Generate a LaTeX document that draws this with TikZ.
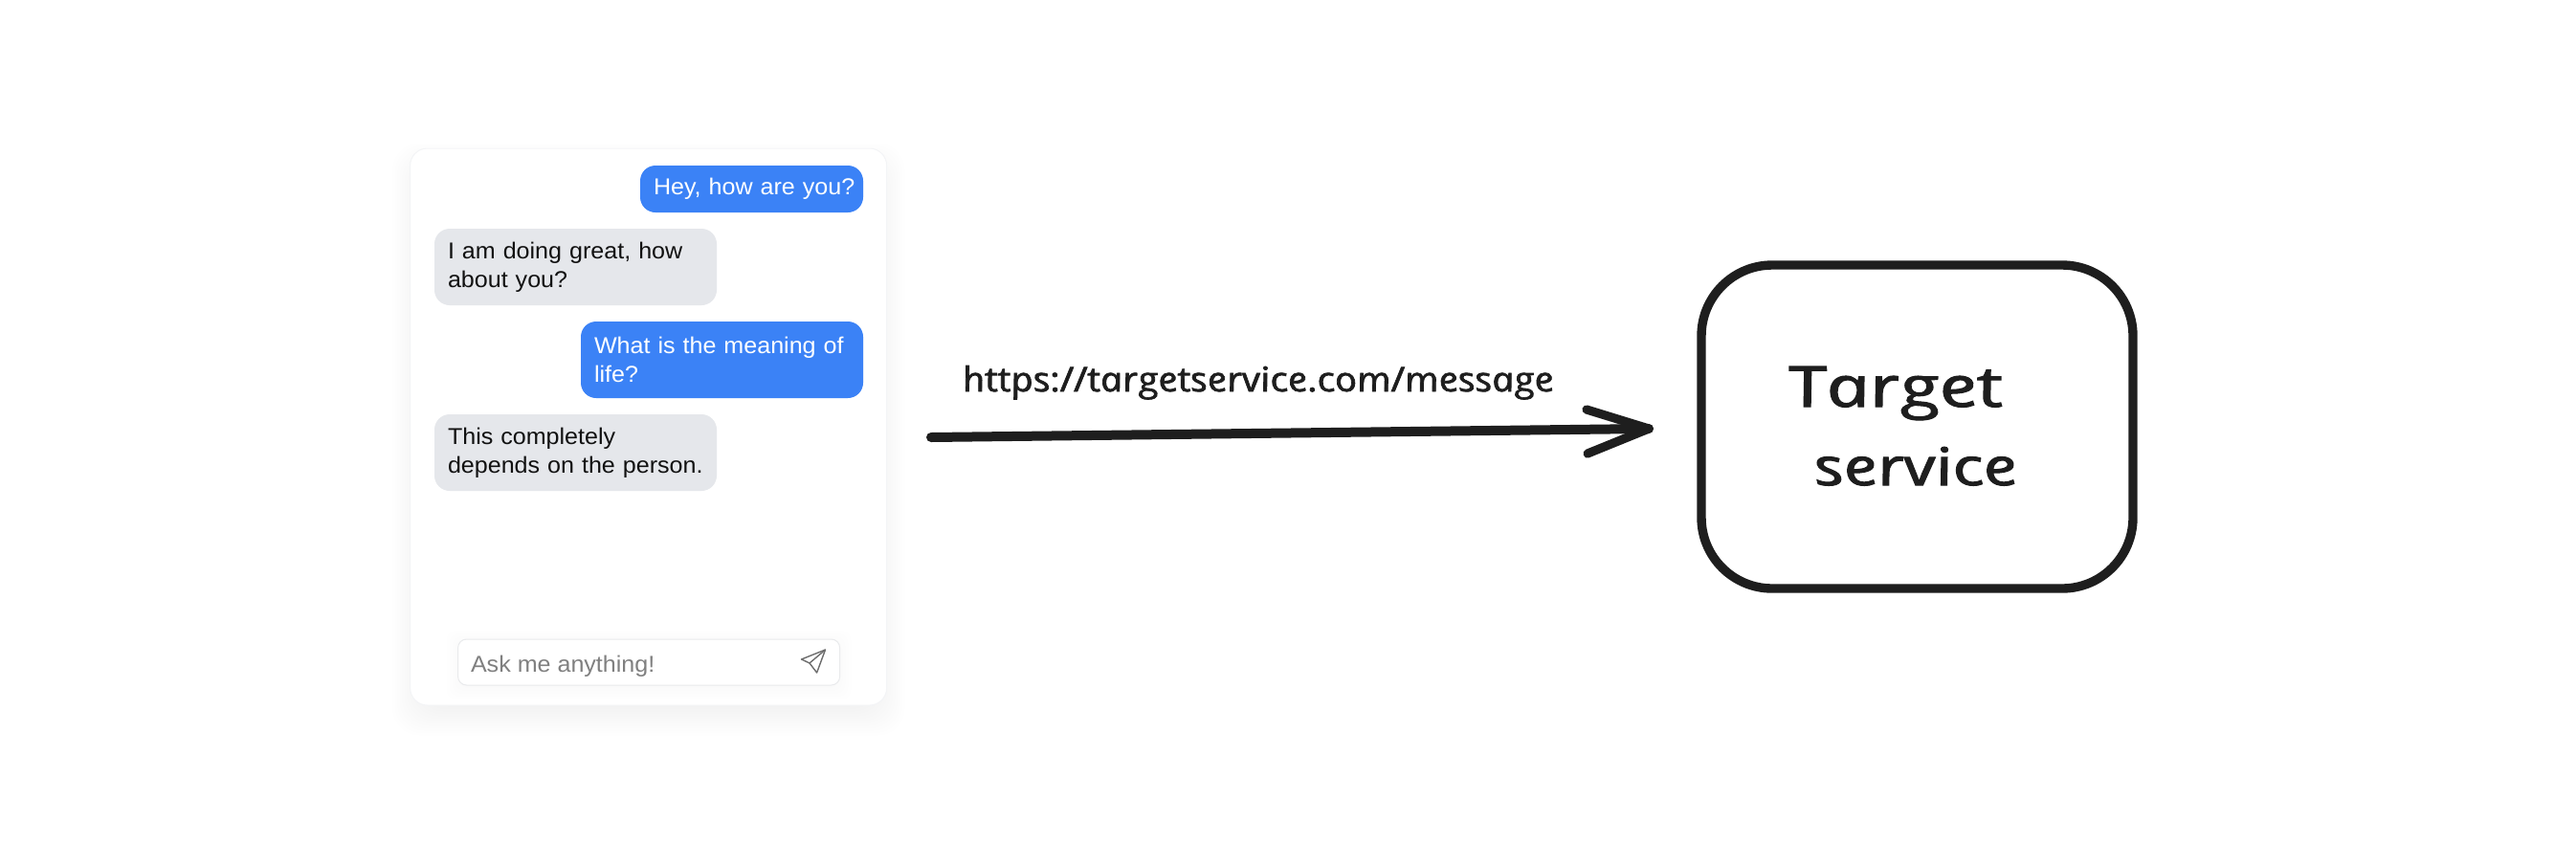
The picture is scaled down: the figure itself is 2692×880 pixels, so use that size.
\documentclass[tikz,border=0pt]{standalone}
\usepackage{fontspec}
\usepackage{graphicx}
\setmainfont{Liberation Sans}[FakeStretch=1.045]
\newfontfamily\hand[ItalicFeatures={FakeSlant=-0.2,FakeBold=1.8}]{Open Sans}
\definecolor{ink}{HTML}{1E1E1E}
\definecolor{bubbleblue}{HTML}{3B82F6}
\definecolor{bubblegray}{HTML}{E5E7EB}
\definecolor{cardline}{HTML}{F3F4F6}
\definecolor{inputline}{HTML}{E9EAEC}
\definecolor{hint}{HTML}{808080}
\definecolor{msg}{HTML}{111111}
\tikzset{
  every node/.style={outer sep=0pt},
  card/.style={draw=cardline,line width=.5pt,fill=white,rounded corners=9pt,inner sep=0,anchor=north west,minimum width=249pt,minimum height=291pt},
  msgbox/.style={rounded corners=8pt,anchor=north west,inner ysep=0,inner xsep=7pt,align=left,font=\fontsize{12}{15}\selectfont},
  outbox/.style={msgbox,fill=bubbleblue,text=white},
  inbox/.style={msgbox,fill=bubblegray,text=msg},
  inputbox/.style={draw=inputline,line width=.5pt,fill=white,rounded corners=4.5pt,inner sep=0,anchor=north west,minimum width=199.5pt,minimum height=24pt},
  hinttext/.style={anchor=base west,inner sep=0,text=hint,font=\fontsize{12}{15}\selectfont},
  handtext/.style={anchor=base west,inner sep=0,text=ink,font=\hand\itshape},
  targetbox/.style={draw=ink,line width=4.7pt,rounded corners=37pt,inner sep=0,anchor=north west,minimum width=225.5pt,minimum height=169pt,fill=white},
  flow/.style={draw=ink,line width=5pt,line cap=round,line join=round},
  barb/.style={draw=ink,line width=4.6pt,line cap=round,line join=round},
  plane/.style={draw=hint!85!black,line width=.7pt,line join=round}
}
\begin{document}
\begin{tikzpicture}[x=0.5pt,y=-0.5pt]
\useasboundingbox (0,0) rectangle (2692,880);
% soft shadows
\foreach \g in {-14,-11.5,...,20}{
  \fill[black,opacity=.004,rounded corners=14pt] (428.6-\g,155+13-\g) rectangle (927+\g,737+13+\g);
}
\node[card] (chat) at (428.6,155) {};
\node[outbox,text width=102.5pt,minimum height=24.5pt] (m1) at (669,173) {\mbox{Hey, how are you?}};
\node[inbox,text width=133.5pt,minimum height=40pt] (m2) at (454,239) {\mbox{I am doing great, how}\\\mbox{about you?}};
\node[outbox,text width=133.5pt,minimum height=40pt] (m3) at (607,336) {\mbox{What is the meaning of}\\\mbox{life?}};
\node[inbox,text width=133.5pt,minimum height=40pt] (m4) at (454,433) {\mbox{This completely}\\\mbox{depends on the person.}};
\foreach \g in {0,3,...,12}{
  \fill[black,opacity=.004,rounded corners=5pt] (478.6-\g,668+3-\g) rectangle (877.5+\g,716+3+\g);
}
\node[inputbox] (field) at (478.6,668) {};
\node[hinttext] (hintlabel) at (492,702) {Ask me anything!};
\coordinate (ptip) at (862.5,679);
\coordinate (pleft) at (837.5,689);
\coordinate (pin) at (846,693);
\coordinate (pbot) at (853.6,703);
\draw[plane] (ptip) -- (pleft) -- (pin) -- (pbot) -- cycle;
\draw[plane] (pin) -- (ptip);
\node[handtext] (url) at (1008,409) {\resizebox{309pt}{13.5pt}{https://targetservice.com/message}};
\coordinate (astart) at (973,457);
\coordinate (aend) at (1723,448);
\coordinate (bup) at (1658,428);
\coordinate (bdown) at (1659,474);
\draw[flow] (astart) -- (aend);
\draw[barb] (bup) -- (aend) -- (bdown);
\node[targetbox] (target) at (1778,277) {};
\node[handtext] (t1) at (1873,425) {\resizebox{112pt}{21pt}{Target}};
\node[handtext] (t2) at (1900,507) {\resizebox{106pt}{20pt}{service}};
\end{tikzpicture}
\end{document}
